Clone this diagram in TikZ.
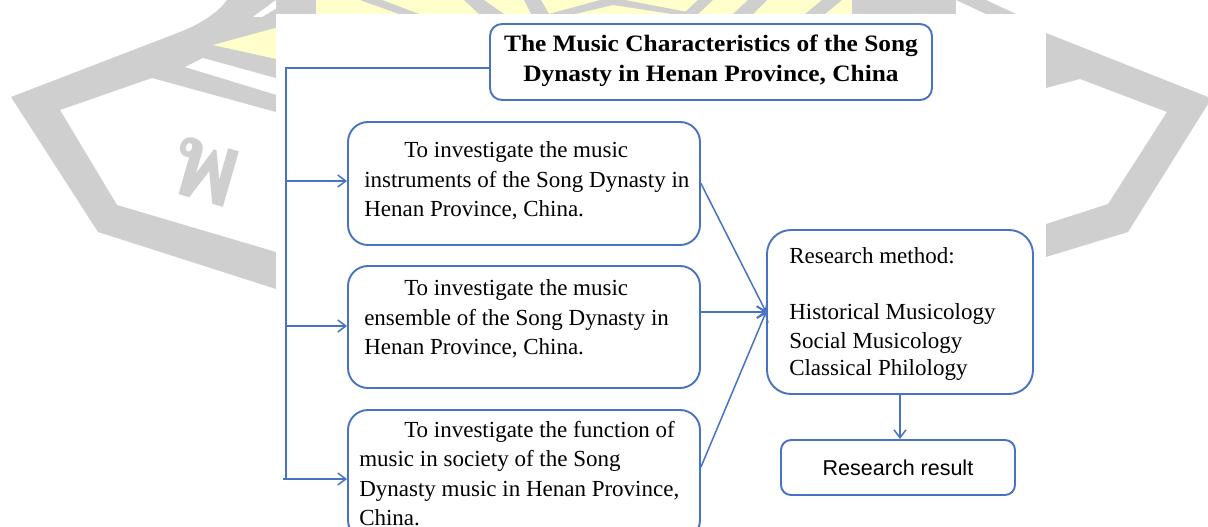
\documentclass[tikz,border=0pt]{standalone}
\usepackage{fontspec}
\setmainfont{Liberation Serif}
\setsansfont{Liberation Sans}
\newfontfamily\titlefont[FakeStretch=1.08]{Liberation Serif}
\newfontfamily\thaifont[Script=Thai]{Loma}
\usetikzlibrary{arrows.meta,calc}
\definecolor{lblue}{RGB}{72,114,196}
\definecolor{wmgray}{RGB}{207,207,207}
\definecolor{wmyellow}{RGB}{255,255,204}
\begin{document}
\begin{tikzpicture}[x=1pt,y=-1pt,
  box/.style={draw=lblue, line width=1.9pt, fill=white, inner sep=0pt},
  body/.style={inner sep=0pt, align=left, font=\fontsize{23}{29.5}\selectfont},
  conn/.style={draw=lblue, line width=1.5pt},
  arr/.style={conn, -{Straight Barb[length=8pt,width=12pt]}},
  wm/.style={fill=wmgray},
  wy/.style={fill=wmyellow}]
\useasboundingbox (0,0) rectangle (1208,527);
\clip (0,0) rectangle (1208,527);
% ---- watermark behind the diagram ----
\fill[wm] (11,97) -- (180,32) .. controls (205,22) and (220,10) .. (227,0) -- (290,0)
  -- (290,112) -- (276,112) -- (152,78) -- (60,110) -- (117,205) -- (276,252)
  -- (290,252) -- (290,289) -- (276,289) -- (98,232) -- cycle;
\fill[white] (253,17) -- (262,17) -- (290,0) -- (276,0) -- cycle;
\fill[wy] (213,45) -- (290,24) -- (290,62) -- cycle;
\fill[white] (185,67) -- (203,58) -- (290,82) -- (290,99) -- cycle;
\fill[wy] (316,0) rectangle (852,14);
\fill[wm] (276,0) rectangle (316,14);
\fill[wm] (360,0) -- (382,0) -- (419,14) -- (399,14) -- cycle;
\fill[wm] (464,0) -- (484,0) -- (504,14) -- (479,14) -- cycle;
\fill[wm] (524,0) -- (541,0) -- (549,14) -- (531,14) -- cycle;
\fill[wm] (549,14) -- (600,0) -- (625,0) -- (698,14) -- (672,14) -- (613,5) -- (575,14) -- cycle;
\fill[wm] (698,0) -- (713,0) -- (698,14) -- (683,14) -- cycle;
\fill[wm] (748,0) -- (767,0) -- (753,14) -- (733,14) -- cycle;
\fill[wm] (822,0) -- (842,0) -- (825,14) -- (805,14) -- cycle;
\fill[wm] (852,0) rectangle (956,14);
\fill[wm] (956,0) -- (986,0) -- (1016,14) -- (986,14) -- cycle;
\fill[wm] (1040,33) -- (1046,33) -- (1208,97) -- (1208,104) -- (1128,232) -- (1046,257)
  -- (1040,257) -- (1040,224) -- (1046,224) -- (1108,204) -- (1167,112) -- (1080,79)
  -- (1046,88) -- (1040,88) -- cycle;
\node[text=wmgray, rotate=-16, inner sep=0pt, font=\thaifont\bfseries\fontsize{104}{104}\selectfont]
  (wmletter) at (206,172) {พ};
\fill[white] (276,14) rectangle (1046,527);
% ---- boxes ----
\node[box, rounded corners=12pt, minimum width=442pt, minimum height=76pt] (tb) at (711,62) {};
\node[inner sep=0pt, align=center, font=\titlefont\bfseries\fontsize{23.5}{29.5}\selectfont]
  (tbt) at ($(tb.center)+(0,-1)$) {The Music Characteristics of the Song\\Dynasty in Henan Province, China};
\node[box, rounded corners=20pt, minimum width=352pt, minimum height=123pt] (b1) at (524,183.5) {};
\node[body, anchor=west] (b1t) at ($(b1.west)+(17,-2.5)$)
  {\hspace*{40pt}To investigate the music\\instruments of the Song Dynasty in\\Henan Province, China.};
\node[box, rounded corners=20pt, minimum width=352pt, minimum height=122pt] (b2) at (524,327) {};
\node[body, anchor=west] (b2t) at ($(b2.west)+(17,-8)$)
  {\hspace*{40pt}To investigate the music\\ensemble of the Song Dynasty in\\Henan Province, China.};
\node[box, rounded corners=20pt, minimum width=352pt, minimum height=130pt] (b3) at (524,475) {};
\node[body, anchor=west] (b3t) at ($(b3.west)+(12,-1.5)$)
  {\hspace*{45pt}To investigate the function of\\music in society of the Song\\Dynasty music in Henan Province,\\China.};
\node[box, rounded corners=24pt, minimum width=266pt, minimum height=164pt] (rm) at (900,312) {};
\node[inner sep=0pt, align=left, font=\fontsize{23}{28}\selectfont, anchor=west] (rmt)
  at ($(rm.west)+(23,2.5)$)
  {Research method:\\[28pt]Historical Musicology\\Social Musicology\\Classical Philology};
\node[box, rounded corners=10pt, minimum width=234pt, minimum height=55pt] (rr) at (898,467.5) {};
\node[inner sep=0pt, font=\sffamily\fontsize{21.5}{25}\selectfont] (rrt) at (rr.center) {Research result};
% ---- connectors ----
\coordinate (t0) at (286,68);
\coordinate (t1) at (286,181);
\coordinate (t2) at (286,326);
\coordinate (t3) at (286,479);
\coordinate (e3) at (700,467);
\draw[conn] (tb.west |- t0) -- (t0) -- (t3) -- ++(-3,0);
\draw[arr] (t1) -- (b1.west |- t1);
\draw[arr] (t2) -- (b2.west |- t2);
\draw[arr] (t3) -- (b3.west |- t3);
\draw[arr] (b1.east) -- (rm.west);
\draw[arr] (b2.east |- rm.west) -- (rm.west);
\draw[arr] (b3.east |- e3) -- (rm.west);
\draw[arr] (rm.south) -- (rm.south |- rr.north);
\end{tikzpicture}
\end{document}
